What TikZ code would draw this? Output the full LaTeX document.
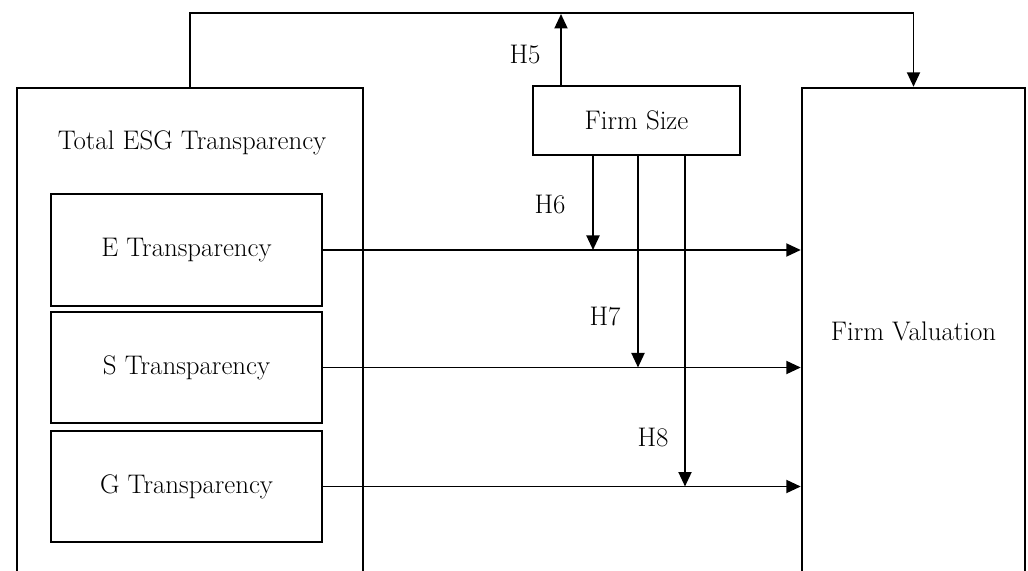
\documentclass[tikz,border=0pt]{standalone}
\usepackage{tikz}
\usetikzlibrary{arrows.meta}

\begin{document}
\begin{tikzpicture}[x=1cm, y=1cm, every node/.style={font=\fontsize{15.3}{18}\selectfont},
  box/.style={draw, line width=1.4pt, inner sep=0pt},
  link/.style={line width=1.1pt, -{Triangle[length=2.9mm, width=2.6mm]}}]

\clip (0,0) rectangle (20.56,11.40);
\useasboundingbox (0,0) rectangle (20.56,11.40);

% Outer construct and its three dimensions
\node[box, minimum width=6.92cm, minimum height=9.72cm] (tot) at (3.80,4.78) {};
\node (totlabel) at (3.84,8.54) {Total ESG Transparency};

\node[box, minimum width=5.42cm, minimum height=2.24cm] (ebox) at (3.73,6.40) {E Transparency};
\node[box, minimum width=5.42cm, minimum height=2.22cm] (sbox) at (3.73,4.05) {S Transparency};
\node[box, minimum width=5.42cm, minimum height=2.22cm] (gbox) at (3.73,1.67) {G Transparency};

% Moderator and outcome
\node[box, minimum width=4.14cm, minimum height=1.38cm] (fsize) at (12.73,8.99) {Firm Size};
\node[box, minimum width=4.46cm, minimum height=9.72cm] (fval) at (18.27,4.78) {Firm Valuation};

% Direct paths
\draw[link] (ebox.east) -- (ebox.east -| fval.west);
\draw[link] (sbox.east) -- (sbox.east -| fval.west);
\draw[link] (gbox.east) -- (gbox.east -| fval.west);

% Total transparency to valuation, across the top
\draw[link] (tot.north) -- ++(0,1.48) -| (fval.north);

% Moderating paths
\coordinate (c5) at (11.22,11.12);
\coordinate (c6) at (11.86,0);
\coordinate (c7) at (12.76,0);
\coordinate (c8) at (13.70,0);

\draw[link] (fsize.north -| c5) -- (c5);
\draw[link] (fsize.south -| c6) -- (c6 |- ebox.east);
\draw[link] (fsize.south -| c7) -- (c7 |- sbox.east);
\draw[link] (fsize.south -| c8) -- (c8 |- gbox.east);

\node (h5) at (10.50,10.30) {H5};
\node (h6) at (11.00,7.30) {H6};
\node (h7) at (12.10,5.06) {H7};
\node (h8) at (13.06,2.64) {H8};

\end{tikzpicture}
\end{document}
